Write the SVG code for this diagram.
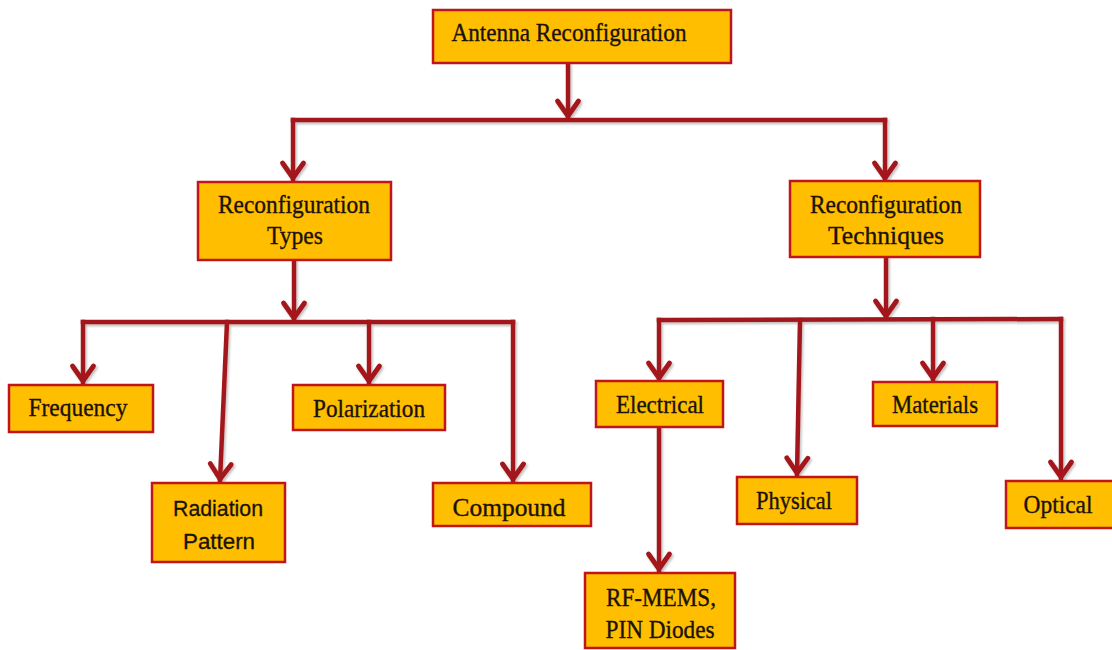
<svg xmlns="http://www.w3.org/2000/svg" width="1112" height="650" viewBox="0 0 1112 650">
<style>
.box{fill:#FFBE00;stroke:#C0161B;stroke-width:2.5}
.t{font-family:"Liberation Serif","Times New Roman",serif;font-size:25px;fill:#1a1208;stroke:#1a1208;stroke-width:0.35;text-anchor:middle}
.s{font-family:"Liberation Sans",Arial,sans-serif;font-size:22px;fill:#1a1208;stroke:#1a1208;stroke-width:0.3;text-anchor:middle}
.c{fill:none;stroke:#A3181B;stroke-width:4.5;stroke-linecap:square}
</style>
<defs>
<marker id="ah" markerUnits="userSpaceOnUse" viewBox="-20 -14 24 28" refX="0" refY="0" markerWidth="24" markerHeight="28" orient="auto">
<path d="M-16,-10.5 L-1,0 L-16,10.5" fill="none" stroke="#A3181B" stroke-width="4.8" stroke-linecap="round" stroke-linejoin="miter"/>
</marker>
<filter id="sh" x="-10%" y="-10%" width="130%" height="130%">
<feDropShadow dx="1.5" dy="2" stdDeviation="1.2" flood-color="#000" flood-opacity="0.25"/>
</filter>
</defs>
<rect width="1112" height="650" fill="#ffffff"/>
<g id="connectors" filter="url(#sh)">
<path class="c" d="M568,64 L568,117" marker-end="url(#ah)"/>
<path class="c" d="M293,120 L885,120"/>
<path class="c" d="M293,120 L293,179" marker-end="url(#ah)"/>
<path class="c" d="M885,120 L885,179" marker-end="url(#ah)"/>
<path class="c" d="M294,261 L294,319" marker-end="url(#ah)"/>
<path class="c" d="M83,322 L513,322"/>
<path class="c" d="M83,322 L83,382" marker-end="url(#ah)"/>
<path class="c" d="M227,322 L220,480" marker-end="url(#ah)"/>
<path class="c" d="M369,322 L369,382" marker-end="url(#ah)"/>
<path class="c" d="M513,322 L513,480" marker-end="url(#ah)"/>
<path class="c" d="M886,258 L886,317" marker-end="url(#ah)"/>
<path class="c" d="M659,320 L1061,319"/>
<path class="c" d="M659,320 L659,379" marker-end="url(#ah)"/>
<path class="c" d="M800,320 L797,474" marker-end="url(#ah)"/>
<path class="c" d="M933,319 L933,379" marker-end="url(#ah)"/>
<path class="c" d="M1061,319 L1061,478" marker-end="url(#ah)"/>
<path class="c" d="M659,428 L659,570" marker-end="url(#ah)"/>
</g>
<g id="antenna-reconfiguration">
<rect class="box" x="433" y="10" width="298" height="53"/>
<text class="t" x="569" y="41" textLength="235" lengthAdjust="spacingAndGlyphs">Antenna Reconfiguration</text>
</g>
<g id="reconfiguration-types">
<rect class="box" x="198" y="182" width="193" height="78"/>
<text class="t" x="294" y="213" textLength="152" lengthAdjust="spacingAndGlyphs">Reconfiguration</text>
<text class="t" x="295" y="244" textLength="56" lengthAdjust="spacingAndGlyphs">Types</text>
</g>
<g id="reconfiguration-techniques">
<rect class="box" x="790" y="181" width="190" height="76"/>
<text class="t" x="886" y="213" textLength="152" lengthAdjust="spacingAndGlyphs">Reconfiguration</text>
<text class="t" x="886" y="244" textLength="116" lengthAdjust="spacingAndGlyphs">Techniques</text>
</g>
<g id="frequency">
<rect class="box" x="9" y="385" width="144" height="47"/>
<text class="t" x="78" y="416" textLength="99" lengthAdjust="spacingAndGlyphs">Frequency</text>
</g>
<g id="radiation-pattern">
<rect class="box" x="152" y="483" width="133" height="79"/>
<text class="s" x="218" y="516" textLength="90" lengthAdjust="spacingAndGlyphs">Radiation</text>
<text class="s" x="219" y="549" textLength="72" lengthAdjust="spacingAndGlyphs">Pattern</text>
</g>
<g id="polarization">
<rect class="box" x="293" y="385" width="152" height="45"/>
<text class="t" x="369" y="417" textLength="112" lengthAdjust="spacingAndGlyphs">Polarization</text>
</g>
<g id="compound">
<rect class="box" x="433" y="483" width="158" height="43"/>
<text class="t" x="509" y="516" textLength="113" lengthAdjust="spacingAndGlyphs">Compound</text>
</g>
<g id="electrical">
<rect class="box" x="596" y="381" width="127" height="46"/>
<text class="t" x="660" y="413" textLength="88" lengthAdjust="spacingAndGlyphs">Electrical</text>
</g>
<g id="rf-mems">
<rect class="box" x="585" y="573" width="150" height="75"/>
<text class="t" x="661" y="606" textLength="110" lengthAdjust="spacingAndGlyphs">RF-MEMS,</text>
<text class="t" x="660" y="638" textLength="109" lengthAdjust="spacingAndGlyphs">PIN Diodes</text>
</g>
<g id="physical">
<rect class="box" x="737" y="477" width="120" height="47"/>
<text class="t" x="794" y="509" textLength="76" lengthAdjust="spacingAndGlyphs">Physical</text>
</g>
<g id="materials">
<rect class="box" x="873" y="382" width="124" height="44"/>
<text class="t" x="935" y="413" textLength="86" lengthAdjust="spacingAndGlyphs">Materials</text>
</g>
<g id="optical">
<rect class="box" x="1006" y="481" width="110" height="47"/>
<text class="t" x="1058" y="513" textLength="69" lengthAdjust="spacingAndGlyphs">Optical</text>
</g>
</svg>
